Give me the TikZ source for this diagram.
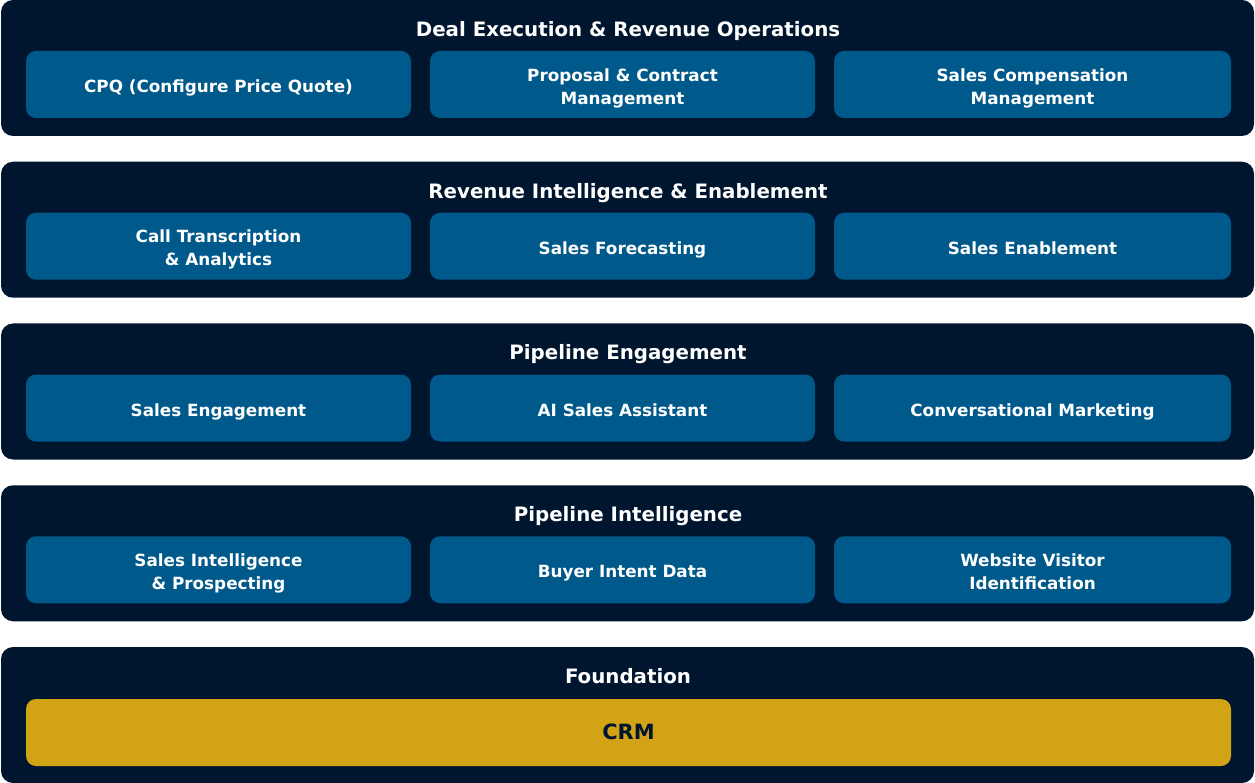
\documentclass[tikz,border=0pt]{standalone}
\usepackage{fontspec}
\setmainfont{DejaVu Sans}
\newcommand\lineht{\vphantom{lg}}
\begin{document}
\definecolor{bandnavy}{HTML}{00162F}
\definecolor{modblue}{HTML}{00598B}
\definecolor{crmgold}{HTML}{D2A314}
\tikzset{
  band/.style={fill=bandnavy, draw=none, rounded corners=12pt},
  bandtitle/.style={text=white, font=\fontsize{19.8}{22}\selectfont\bfseries, anchor=center},
  modbox/.style={fill=modblue, draw=none, rounded corners=10pt, minimum height=67pt, inner sep=0pt},
  modtext/.style={text=white, font=\fontsize{16.8}{23}\selectfont\bfseries, align=center, inner sep=0pt},
  crmbox/.style={fill=crmgold, draw=none, rounded corners=10pt, minimum width=1205pt, minimum height=67pt, inner sep=0pt},
  crmtext/.style={text=bandnavy, font=\fontsize{21}{24}\selectfont\bfseries, inner sep=0pt},
}
\begin{tikzpicture}[x=1pt,y=-1pt]
\useasboundingbox (0,0) rectangle (1255,783);
% five stacked layers, top to bottom
\foreach \i/\t in {0/Deal Execution \& Revenue Operations,1/Revenue Intelligence \& Enablement,2/Pipeline Engagement,3/Pipeline Intelligence,4/Foundation}{
  \pgfmathsetmacro{\top}{161.75*\i}
  \fill[band] (1,\top) rectangle (1254,\top+136);
  \node[bandtitle] (title\i) at (628,\top+31) {\vphantom{Ag}\t};
}
% module boxes in three columns for the four upper layers
\foreach \r/\a/\b/\c in {
  0/{\lineht CPQ (Configure Price Quote)}/{\lineht Proposal \& Contract\\\lineht Management}/{\lineht Sales Compensation\\\lineht Management},
  1/{\lineht Call Transcription\\\lineht\& Analytics}/{\lineht Sales Forecasting}/{\lineht Sales Enablement},
  2/{\lineht Sales Engagement}/{\lineht AI Sales Assistant}/{\lineht Conversational Marketing},
  3/{\lineht Sales Intelligence\\\lineht\& Prospecting}/{\lineht Buyer Intent Data}/{\lineht Website Visitor\\\lineht Identification}}{
  \pgfmathsetmacro{\cy}{161.75*\r+84.5}
  \node[modbox, minimum width=385pt] (m\r a) at (218.5,\cy) {};
  \node[modbox, minimum width=385pt] (m\r b) at (622.5,\cy) {};
  \node[modbox, minimum width=397pt] (m\r c) at (1032.5,\cy) {};
  \node[modtext] (t\r a) at ([yshift=-3.5pt]m\r a.center) {\a};
  \node[modtext] (t\r b) at ([yshift=-3.5pt]m\r b.center) {\b};
  \node[modtext] (t\r c) at ([yshift=-3.5pt]m\r c.center) {\c};
}
% foundation
\node[crmbox] (crm) at (628.5,732.5) {};
\node[crmtext] (crmlabel) at ([yshift=0.5pt]crm.center) {CRM};
\end{tikzpicture}
\end{document}
